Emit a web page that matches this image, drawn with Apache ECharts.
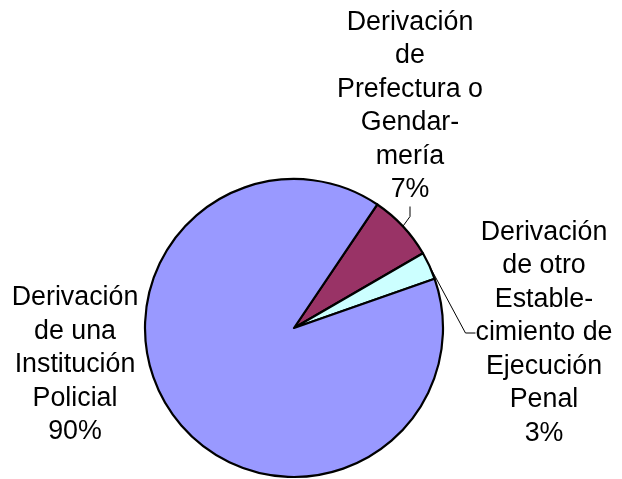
<!DOCTYPE html>
<html>
<head>
<meta charset="utf-8">
<script src="https://cdn.jsdelivr.net/npm/echarts@6/dist/echarts.min.js"></script>
<style>
    html, body { margin: 0; padding: 0; background: #fff; }
    #main { width: 622px; height: 479px; }
</style>
</head>
<body>
<div id="main"></div>
<script>
    // categorias (con los saltos de linea del grafico original)
    var categorias = [
        'Derivación\nde\nPrefectura o\nGendar-\nmería',
        'Derivación\nde otro\nEstable-\ncimiento de\nEjecución\nPenal',
        'Derivación\nde una\nInstitución\nPolicial'
    ];
    var valores = [7.2, 3.0, 89.8];
    var colores = ['#993366', '#CCFFFF', '#9999FF'];

    var datos = [];
    for (var i = 0; i < categorias.length; i++) {
        datos.push({
            name: categorias[i],
            value: valores[i],
            itemStyle: { color: colores[i] },
            labelLine: { show: i !== 2 }
        });
    }

    var myChart = echarts.init(document.getElementById('main'));
    var option = {
        animation: false,
        series: [
            {
                type: 'pie',
                center: [294, 328],
                radius: 149,
                startAngle: 56,
                clockwise: true,
                avoidLabelOverlap: false,
                data: datos,
                itemStyle: {
                    borderColor: '#000',
                    borderWidth: 2.2
                },
                label: {
                    show: true,
                    position: 'outside',
                    color: '#000',
                    fontFamily: '"Liberation Sans", Arial, sans-serif',
                    fontSize: 26.8,
                    lineHeight: 33.5,
                    align: 'center',
                    formatter: function (p) {
                        return p.name + '\n' + Math.round(p.percent) + '%';
                    }
                },
                labelLine: {
                    show: true,
                    length: 12,
                    length2: 10,
                    lineStyle: { color: '#000', width: 1 }
                },
                labelLayout: function (params) {
                    // posicion de cada rotulo, como en el original
                    if (params.dataIndex === 0) {
                        return { x: 410, y: 106, align: 'center', verticalAlign: 'middle' };
                    }
                    if (params.dataIndex === 1) {
                        return { x: 544, y: 333, align: 'center', verticalAlign: 'middle' };
                    }
                    return { x: 75, y: 365, align: 'center', verticalAlign: 'middle' };
                }
            }
        ]
    };
    myChart.setOption(option);
</script>
</body>
</html>
